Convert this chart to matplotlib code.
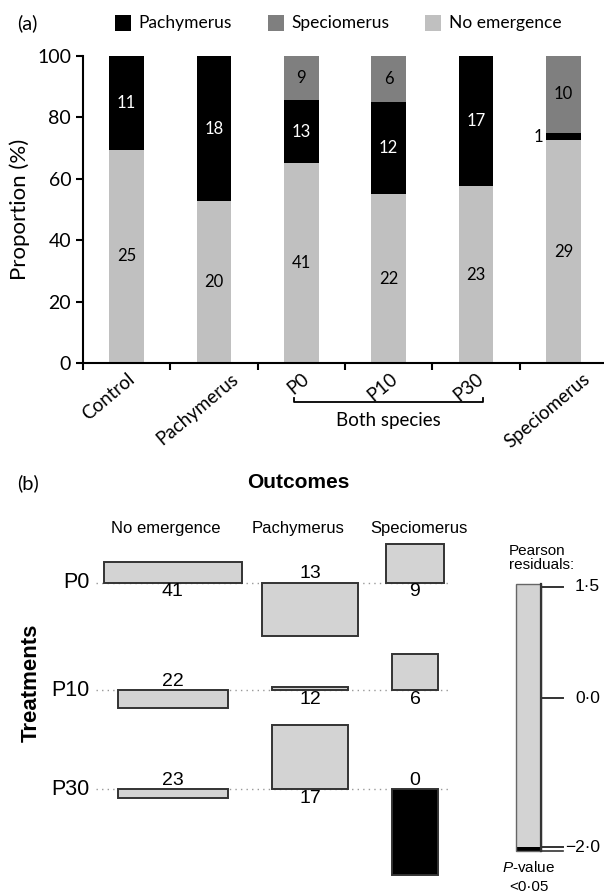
import numpy as np
import matplotlib.pyplot as plt
import matplotlib.transforms as mtransforms
from matplotlib.patches import Rectangle

plt.rcParams['mathtext.fontset'] = 'custom'
plt.rcParams['mathtext.rm'] = 'Liberation Sans'
plt.rcParams['mathtext.it'] = 'Liberation Sans:italic'

# data: emergence counts per treatment
categories = ['Control', 'Pachymerus', 'P0', 'P10', 'P30', 'Speciomerus']
no_emergence = np.array([25, 20, 41, 22, 23, 29])
pachymerus = np.array([11, 18, 13, 12, 17, 1])
speciomerus = np.array([0, 0, 9, 6, 0, 10])

treatments = ['P0', 'P10', 'P30']
outcomes = ['No emergence', 'Pachymerus', 'Speciomerus']
legend_ticks = [1.5, 0.0, -2.0]
legend_ticklabels = ['1\u00b75', '0\u00b70', '\u22122\u00b70']

W, H = 604, 892
fig = plt.figure(figsize=(W / 100, H / 100), dpi=100)


def px_rect(l, t, r, b):
    return [l / W, 1 - b / H, (r - l) / W, (b - t) / H]


LATO = 'Lato'
ARIAL = 'Liberation Sans'

# ---------------- panel (a) ----------------
ax = fig.add_axes(px_rect(83, 56, 607, 363))
tot = no_emergence + pachymerus + speciomerus
p_ne = no_emergence / tot * 100
p_pa = pachymerus / tot * 100
p_sp = speciomerus / tot * 100
x = np.arange(len(categories)) + 0.5
bw = 0.4
light, mid = '#c0c0c0', '#7f7f7f'

b_ne = ax.bar(x, p_ne, bw, color=light, label='No emergence')
b_pa = ax.bar(x, p_pa, bw, bottom=p_ne, color='black', label='Pachymerus')
b_sp = ax.bar(x, p_sp, bw, bottom=p_ne + p_pa, color=mid, label='Speciomerus')

for i in range(len(categories)):
    segs = [(no_emergence[i], 0, p_ne[i], 'black'),
            (pachymerus[i], p_ne[i], p_pa[i], 'white'),
            (speciomerus[i], p_ne[i] + p_pa[i], p_sp[i], 'black')]
    for n, bot, h, c in segs:
        if n == 0:
            continue
        if h < 5:
            ax.text(x[i] - bw / 2 - 0.03, bot + h / 2, str(n), ha='right',
                    va='center', fontsize=12, family=LATO, color='black')
        else:
            ax.text(x[i], bot + h / 2, str(n), ha='center', va='center',
                    fontsize=12, family=LATO, color=c)

ax.set_xlim(0, 6)
ax.set_ylim(0, 100)
ax.set_yticks([0, 20, 40, 60, 80, 100])
ax.set_xticks(range(7))
ax.set_xticklabels([])
ax.tick_params(axis='x', length=5, width=1.5)
ax.tick_params(axis='y', length=5, width=1.5, labelsize=14)
for lab in ax.get_yticklabels():
    lab.set_family(LATO)
for s in ['top', 'right']:
    ax.spines[s].set_visible(False)
for s in ['left', 'bottom']:
    ax.spines[s].set_linewidth(1.5)
ax.set_ylabel('Proportion (%)', family=LATO, fontsize=16, labelpad=5)

# rotated category labels; long ones sit further right in the original
tr = ax.get_xaxis_transform()
label_shift = [0, 17, 0, 1, 0, 19]
for xi, name, dx in zip(x, categories, label_shift):
    off = mtransforms.ScaledTranslation(dx / 100, -7 / 100, fig.dpi_scale_trans)
    ax.text(xi, 0, name, transform=tr + off, rotation=40, ha='right',
            va='top', rotation_mode='anchor', family=LATO, fontsize=13.5)

# bracket under the three mixed treatments
ax.plot([2.42, 2.42, 4.58, 4.58], [-0.113, -0.126, -0.126, -0.113],
        color='black', lw=1.3, transform=tr, clip_on=False)
ax.text(3.5, -0.188, 'Both species', transform=tr, ha='center', va='center',
        family=LATO, fontsize=13.5)

ax.legend(handles=[b_pa, b_sp, b_ne], ncol=3, loc='center left',
          bbox_to_anchor=((115 - 83) / 524, (363 - 23) / 307), frameon=False,
          borderpad=0, borderaxespad=0, handlelength=0.92, handleheight=1.05,
          handletextpad=0.45, columnspacing=2.05,
          prop={'family': LATO, 'size': 12.5})

fig.text(17 / W, 1 - 23 / H, '(a)', family=LATO, fontsize=14.5, va='center')

# ---------------- panel (b): association plot ----------------
obs = np.array([no_emergence[2:5], pachymerus[2:5], speciomerus[2:5]]).T
expd = np.outer(obs.sum(axis=1), obs.sum(axis=0)) / obs.sum()
res = (obs - expd) / np.sqrt(expd)
sq = np.sqrt(expd)

col_w = sq.max(axis=0)
col_gap = [0.91, 1.26]
col_left = np.array([0, col_w[0] + col_gap[0],
                     col_w[0] + col_gap[0] + col_w[1] + col_gap[1]])
col_c = col_left + col_w / 2
row_gap = 0.42
base = [0.0]
for i in range(1, len(treatments)):
    base.append(base[-1] - max(0, -res[i - 1].min()) - row_gap
                - max(0, res[i].max()))

x0px, ux = 104, 22.35
y0px, uy = 582.7, 41.7
axb = fig.add_axes(px_rect(0, 470, 470, 892))
axb.set_xlim((0 - x0px) / ux, (470 - x0px) / ux)
axb.set_ylim(-(892 - y0px) / uy, (y0px - 470) / uy)
axb.axis('off')

edge = '#333333'
for i in range(len(treatments)):
    axb.plot([col_left[0] - 0.36, col_left[-1] + col_w[-1] + 0.33],
             [base[i], base[i]], color='#999999', lw=1,
             ls=(0, (1, 3)), zorder=1)
    for j in range(len(outcomes)):
        r = res[i, j]
        fc = 'black' if r < -2 else '#d3d3d3'
        axb.add_patch(Rectangle((col_c[j] - sq[i, j] / 2, base[i]), sq[i, j], r,
                                facecolor=fc, edgecolor=edge, lw=1.4, zorder=2))
        ty = base[i] - 0.22 if r > 0 else base[i] + 0.22
        axb.text(col_c[j], ty, str(obs[i, j]), ha='center', va='center',
                 family=ARIAL, fontsize=14)
    axb.text(-0.63, base[i], treatments[i], ha='right', va='center',
             family=ARIAL, fontsize=15.5)

lab_dx = [-0.32, -0.53, 0.18]
for j, name in enumerate(outcomes):
    axb.text(col_c[j] + lab_dx[j], 1.31, name, ha='center', va='center',
             family=ARIAL, fontsize=12)

fig.text(17 / W, 1 - 483 / H, '(b)', family=LATO, fontsize=14.5, va='center')
fig.text(298 / W, 1 - 483 / H, 'Outcomes', family=ARIAL, fontsize=15,
         fontweight='bold', ha='center', va='center')
fig.text(31 / W, 1 - 683 / H, 'Treatments', family=ARIAL, fontsize=16,
         fontweight='bold', ha='center', va='center', rotation=90)

# residual legend
rmin, rmax = res.min(), res.max()
zpx, ul = 698.3, 74.4
axl = fig.add_axes(px_rect(516, zpx - rmax * ul, 600, zpx - rmin * ul))
axl.set_xlim(0, 84)
axl.set_ylim(rmin, rmax)
axl.axis('off')
axl.add_patch(Rectangle((0, -2.0), 25, rmax + 2.0, facecolor='#d3d3d3',
                        edgecolor='none'))
axl.add_patch(Rectangle((0, rmin), 25, -2.0 - rmin, facecolor='black',
                        edgecolor='none'))
axl.add_patch(Rectangle((0, rmin), 25, rmax - rmin, facecolor='none',
                        edgecolor='#666666', lw=1.0, clip_on=False))
axl.plot([25, 25], [rmin, rmax], color=edge, lw=1.6, clip_on=False)
for t, tl in zip(legend_ticks, legend_ticklabels):
    axl.plot([25, 47], [t, t], color=edge, lw=1.4, clip_on=False)
    axl.text(84, t, tl, ha='right', va='center', family=ARIAL, fontsize=12.5)
axl.plot([25, 47], [rmin, rmin], color=edge, lw=1.2, clip_on=False)
axl.text(-7.5, 1.886, 'Pearson\nresiduals:', ha='left', va='center',
         family=ARIAL, fontsize=11, linespacing=1.0)
axl.text(13, -2.28, '$P$-value', ha='center', va='center',
         family=ARIAL, fontsize=11)
axl.text(13, -2.53, '<0\u00b705', ha='center', va='center',
         family=ARIAL, fontsize=11)

fig.savefig('out.png', dpi=100)
